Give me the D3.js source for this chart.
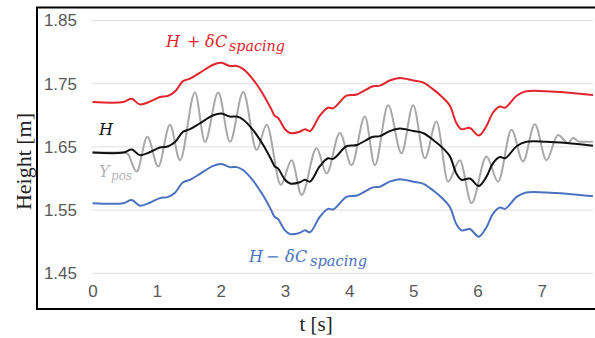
<!DOCTYPE html>
<html>
<head>
<meta charset="utf-8">
<script src="https://cdn.jsdelivr.net/npm/d3@7"></script>
<style>
  html, body { margin: 0; padding: 0; background: #fff; }
  svg { display: block; }
</style>
</head>
<body>
<svg id="chart" width="595" height="338"></svg>
<script>
// Mean height H over time
const hTime = [0, 0.48, 0.61, 0.74, 0.90, 1.05, 1.18, 1.29, 1.41, 1.52, 1.67, 1.88, 2.01, 2.14, 2.25, 2.35,
  2.50, 2.66, 2.79, 2.84, 2.89, 3.00, 3.08, 3.23, 3.31, 3.39, 3.54, 3.67, 3.75, 3.96, 4.12, 4.37, 4.48,
  4.63, 4.79, 5.00, 5.15, 5.31, 5.46, 5.57, 5.67, 5.75, 5.88, 6.02, 6.14, 6.24, 6.35, 6.43, 6.61, 6.76,
  7.07, 7.39, 7.80];
const hValue = [1.641, 1.641, 1.646, 1.637, 1.642, 1.649, 1.651, 1.658, 1.674, 1.678, 1.687, 1.700, 1.703,
  1.698, 1.698, 1.693, 1.677, 1.653, 1.629, 1.619, 1.616, 1.598, 1.592, 1.594, 1.598, 1.595, 1.619, 1.632,
  1.631, 1.651, 1.653, 1.666, 1.667, 1.675, 1.679, 1.675, 1.672, 1.661, 1.648, 1.635, 1.608, 1.598, 1.600,
  1.588, 1.603, 1.624, 1.634, 1.632, 1.651, 1.658, 1.658, 1.656, 1.652];

// Half-width of the spacing band around H
const deltaC = 0.08;

// Measured position Y_pos (turning points of the oscillation)
const yTime = [0, 0.48, 0.537, 0.688, 0.854, 1.025, 1.207, 1.363, 1.597, 1.752, 1.960, 2.142, 2.349, 2.558,
  2.713, 2.936, 3.103, 3.259, 3.492, 3.648, 3.855, 4.037, 4.245, 4.400, 4.607, 4.816, 4.997, 5.179, 5.361,
  5.542, 5.724, 5.907, 6.140, 6.321, 6.530, 6.710, 6.893, 7.075, 7.255, 7.411, 7.489, 7.59, 7.80];
const yValue = [1.641, 1.641, 1.640, 1.611, 1.666, 1.619, 1.685, 1.629, 1.736, 1.658, 1.736, 1.658, 1.737,
  1.645, 1.685, 1.590, 1.629, 1.574, 1.648, 1.608, 1.672, 1.621, 1.698, 1.621, 1.716, 1.640, 1.716, 1.632,
  1.690, 1.595, 1.629, 1.561, 1.635, 1.595, 1.677, 1.627, 1.686, 1.629, 1.669, 1.656, 1.664, 1.658, 1.658];

const xTicks = [0, 1, 2, 3, 4, 5, 6, 7];
const yTicks = [1.45, 1.55, 1.65, 1.75, 1.85];

const svg = d3.select("#chart");

const x = d3.scaleLinear().domain([0, 7.8]).range([92.5, 593]);
const y = d3.scaleLinear().domain([1.45, 1.85]).range([273.3, 20.5]);

// outer frame (open on the right)
svg.append("path")
  .attr("d", "M597,7.5 H37 V309 H597")
  .attr("fill", "none").attr("stroke", "#000").attr("stroke-width", 2);

// horizontal gridlines
svg.append("g").selectAll("line").data(yTicks).join("line")
  .attr("x1", x(0) - 1).attr("x2", x(7.8))
  .attr("y1", d => y(d)).attr("y2", d => y(d))
  .attr("stroke", "#e0e0e0").attr("stroke-width", 1);

// y axis labels
const yAxis = d3.axisLeft(y).tickValues(yTicks).tickFormat(d3.format(".2f")).tickSize(0).tickPadding(0);
svg.append("g").attr("transform", "translate(77,0)").call(yAxis)
  .call(g => g.select(".domain").remove())
  .call(g => g.selectAll("text").attr("fill", "#595959")
    .style("font-family", "'Liberation Sans', Arial, sans-serif").style("font-size", "17px"));

// x axis labels
const xAxis = d3.axisBottom(x).tickValues(xTicks).tickFormat(d3.format("d")).tickSize(0).tickPadding(0);
svg.append("g").attr("transform", "translate(0,285)").call(xAxis)
  .call(g => g.select(".domain").remove())
  .call(g => g.selectAll("text").attr("fill", "#595959")
    .style("font-family", "'Liberation Sans', Arial, sans-serif").style("font-size", "17px"));

// axis titles
svg.append("text").attr("x", 316).attr("y", 331).attr("text-anchor", "middle")
  .style("font-family", "'Liberation Serif', serif").style("font-size", "21px").attr("fill", "#222")
  .text("t [s]");
svg.append("text").attr("transform", "translate(31,161.5) rotate(-90)").attr("text-anchor", "middle")
  .style("font-family", "'Liberation Serif', serif").style("font-size", "22px").attr("fill", "#222")
  .text("Height [m]");

const hPts = hTime.map((t, i) => [t, hValue[i]]);
const yPts = yTime.map((t, i) => [t, yValue[i]]);

const smooth = d3.line().x(d => x(d[0])).y(d => y(d[1])).curve(d3.curveCatmullRom.alpha(0.5));
const wave = d3.line().x(d => x(d[0])).y(d => y(d[1])).curve(d3.curveMonotoneX);

const series = [
  { pts: yPts, color: "#a8a8a8", w: 2, gen: wave },
  { pts: hPts, color: "#111", w: 2, gen: smooth },
  { pts: hPts.map(d => [d[0], d[1] + deltaC]), color: "#e2242c", w: 2, gen: smooth },
  { pts: hPts.map(d => [d[0], d[1] - deltaC]), color: "#4a72c0", w: 2, gen: smooth }
];
svg.append("g").selectAll("path").data(series).join("path")
  .attr("d", d => d.gen(d.pts))
  .attr("fill", "none")
  .attr("stroke", d => d.color)
  .attr("stroke-width", d => d.w)
  .attr("stroke-linejoin", "round");

// math-style series labels
const mathFont = "'DejaVu Serif', serif";
function mathLabel(parts, color) {
  const g = svg.append("g").attr("fill", color)
    .style("font-family", mathFont).style("font-style", "italic");
  parts.forEach(p => {
    const t = g.append("text").attr("x", p.x).attr("y", p.y)
      .style("font-size", p.size + "px").style("font-style", p.upright ? "normal" : "italic")
      .text(p.s);
    if (p.len) t.attr("textLength", p.len).attr("lengthAdjust", "spacingAndGlyphs");
  });
}

mathLabel([
  { s: "H", x: 166, y: 47, size: 16 },
  { s: "+", x: 187, y: 47, size: 16, upright: true },
  { s: "δ", x: 205, y: 47, size: 16 },
  { s: "C", x: 215, y: 47, size: 16 },
  { s: "spacing", x: 229, y: 50.5, size: 14, len: 56 }
], "#e2242c");

mathLabel([
  { s: "H", x: 249, y: 262, size: 16 },
  { s: "−", x: 266, y: 262, size: 16, upright: true },
  { s: "δ", x: 285, y: 262, size: 16 },
  { s: "C", x: 295, y: 262, size: 16 },
  { s: "spacing", x: 310, y: 265.5, size: 14, len: 57 }
], "#4a72c0");

mathLabel([
  { s: "H", x: 99, y: 135, size: 16 }
], "#111");

mathLabel([
  { s: "Y", x: 99, y: 177, size: 16 },
  { s: "pos", x: 111, y: 180, size: 13, len: 21 }
], "#b4b4b4");
</script>
</body>
</html>
